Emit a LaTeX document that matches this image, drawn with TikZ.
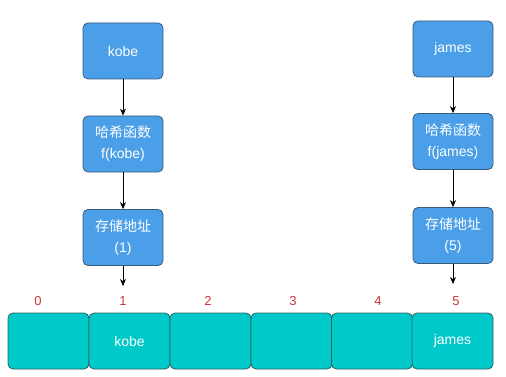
\documentclass[tikz,border=0pt]{standalone}
\usepackage{fontspec}
\setmainfont{Liberation Sans}
\newfontfamily\cjk{Noto Sans CJK SC}
\usetikzlibrary{arrows.meta}
\definecolor{boxblue}{HTML}{4A9FE8}
\definecolor{boxedge}{HTML}{3A5A7A}
\definecolor{cellcyan}{HTML}{00C9C9}
\definecolor{celledge}{HTML}{2F5F5F}
\definecolor{idxred}{HTML}{D0333A}
\tikzset{
  bluebox/.style={draw=boxedge, line width=0.8pt, fill=boxblue, rounded corners=5pt,
    minimum width=80pt, minimum height=56pt, text=white, align=center,
    font=\fontsize{14}{21}\selectfont, inner sep=0pt},
  cell/.style={draw=celledge, line width=0.8pt, fill=cellcyan, rounded corners=5pt,
    minimum width=81pt, minimum height=56pt, text=white, font=\fontsize{14}{16}\selectfont, inner sep=0pt},
  idx/.style={text=idxred, font=\fontsize{13}{15}\selectfont},
  conn/.style={draw=black, line width=0.7pt, -{Stealth[length=7pt,width=6pt]}}
}
\begin{document}
\begin{tikzpicture}[x=1pt,y=-1pt]
\useasboundingbox (0,0) rectangle (506,377);
\node[bluebox] (k1) at (123,51) {kobe};
\node[bluebox] (k2) at (123,144) {{\cjk 哈希函数}\\f(kobe)};
\node[bluebox] (k3) at (123,237.5) {{\cjk 存储地址}\\(1)};
\node[bluebox] (j1) at (453,49) {james};
\node[bluebox] (j2) at (453,141.5) {{\cjk 哈希函数}\\f(james)};
\node[bluebox] (j3) at (453,235.5) {{\cjk 存储地址}\\(5)};
\node[cell] (c0) at (48.5,341) {};
\node[cell] (c1) at (129.5,341) {kobe};
\node[cell] (c2) at (210.5,341) {};
\node[cell] (c3) at (291.5,341) {};
\node[cell] (c4) at (372,341) {};
\node[cell] (c5) at (452.5,341) {james};
\node[idx] (i0) at (38,301) {0};
\node[idx] (i1) at (123,301) {1};
\node[idx] (i2) at (208,301) {2};
\node[idx] (i3) at (293,301) {3};
\node[idx] (i4) at (378,301) {4};
\node[idx] (i5) at (456,301) {5};
\coordinate (a1) at (123,286);
\coordinate (a5) at (453,284);
\draw[conn] (k1) -- (k2);
\draw[conn] (k2) -- (k3);
\draw[conn] (k3.south) -- (a1);
\draw[conn] (j1) -- (j2);
\draw[conn] (j2) -- (j3);
\draw[conn] (j3.south) -- (a5);
\end{tikzpicture}
\end{document}
